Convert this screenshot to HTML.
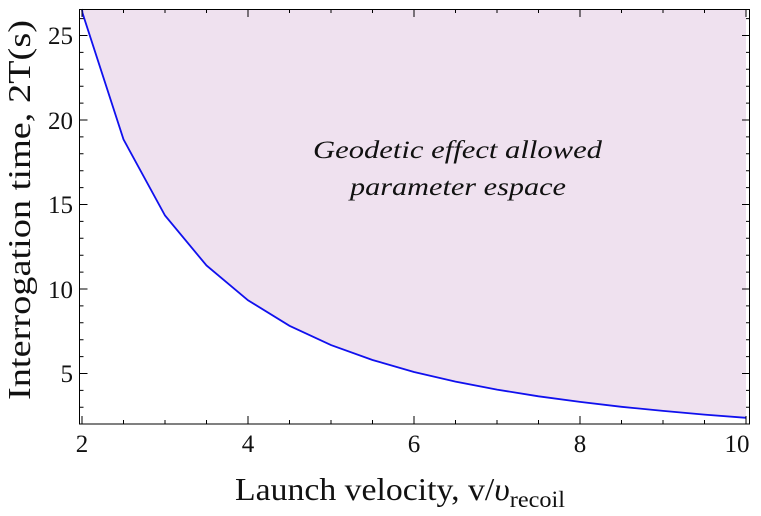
<!DOCTYPE html><html><head><style>body{margin:0;background:#fff}svg{display:block}text{font-family:"Liberation Serif",serif;fill:#111}</style></head><body>
<svg width="761" height="516" viewBox="0 0 761 516">
<polygon fill="#efe1ef" points="82,9 82,13 123.5,139.4 165,215.5 206.5,265.5 248,300.3 289.5,325.8 331,345.1 372.5,360 414,372 455.5,381.6 497,389.6 538.5,396.3 580,401.9 621.5,406.8 663,410.9 704.5,414.6 746,417.8 746,9"/>
<polyline fill="none" stroke="#1010ee" stroke-width="1.8" points="82,9 82.5,13 123.5,139.4 165,215.5 206.5,265.5 248,300.3 289.5,325.8 331,345.1 372.5,360 414,372 455.5,381.6 497,389.6 538.5,396.3 580,401.9 621.5,406.8 663,410.9 704.5,414.6 746,417.8"/>
<g stroke="#000" stroke-width="1">
<rect x="79.5" y="9.5" width="670" height="414.5" fill="none"/>
<path d="M82 424v-8M82 9v8M123.5 424v-4M123.5 9v4M165 424v-4M165 9v4M206.5 424v-4M206.5 9v4M248 424v-8M248 9v8M289.5 424v-4M289.5 9v4M331 424v-4M331 9v4M372.5 424v-4M372.5 9v4M414 424v-8M414 9v8M455.5 424v-4M455.5 9v4M497 424v-4M497 9v4M538.5 424v-4M538.5 9v4M580 424v-8M580 9v8M621.5 424v-4M621.5 9v4M663 424v-4M663 9v4M704.5 424v-4M704.5 9v4M746 424v-8M746 9v8"/>
<path d="M79.5 373.5h8M750 373.5h-8M79.5 289h8M750 289h-8M79.5 204.5h8M750 204.5h-8M79.5 120h8M750 120h-8M79.5 35.5h8M750 35.5h-8
M79.5 407.3h4M750 407.3h-4M79.5 390.4h4M750 390.4h-4M79.5 356.6h4M750 356.6h-4M79.5 339.7h4M750 339.7h-4M79.5 322.8h4M750 322.8h-4M79.5 305.9h4M750 305.9h-4M79.5 272.1h4M750 272.1h-4M79.5 255.2h4M750 255.2h-4M79.5 238.3h4M750 238.3h-4M79.5 221.4h4M750 221.4h-4M79.5 187.6h4M750 187.6h-4M79.5 170.7h4M750 170.7h-4M79.5 153.8h4M750 153.8h-4M79.5 136.9h4M750 136.9h-4M79.5 103.1h4M750 103.1h-4M79.5 86.2h4M750 86.2h-4M79.5 69.3h4M750 69.3h-4M79.5 52.4h4M750 52.4h-4M79.5 18.6h4M750 18.6h-4"/>
</g>
<g font-size="25" text-anchor="middle">
<text x="82" y="452">2</text><text x="248" y="452">4</text><text x="414" y="452">6</text><text x="580" y="452">8</text><text x="737" y="452">10</text>
</g>
<g font-size="25" text-anchor="end">
<text x="73" y="382">5</text><text x="73" y="298">10</text><text x="73" y="213">15</text><text x="73" y="129">20</text><text x="73" y="44">25</text>
</g>
<text x="235" y="500" font-size="32" textLength="330" lengthAdjust="spacingAndGlyphs">Launch velocity, v/<tspan font-style="italic">υ</tspan><tspan font-size="23" dy="7">recoil</tspan></text>
<text transform="translate(30,400) rotate(-90)" font-size="32" textLength="380" lengthAdjust="spacingAndGlyphs">Interrogation time, 2T(s)</text>
<g font-size="25" font-style="italic">
<text x="313" y="158" textLength="289" lengthAdjust="spacingAndGlyphs">Geodetic effect allowed</text><text x="350" y="195" textLength="216" lengthAdjust="spacingAndGlyphs">parameter espace</text>
</g>
</svg></body></html>
